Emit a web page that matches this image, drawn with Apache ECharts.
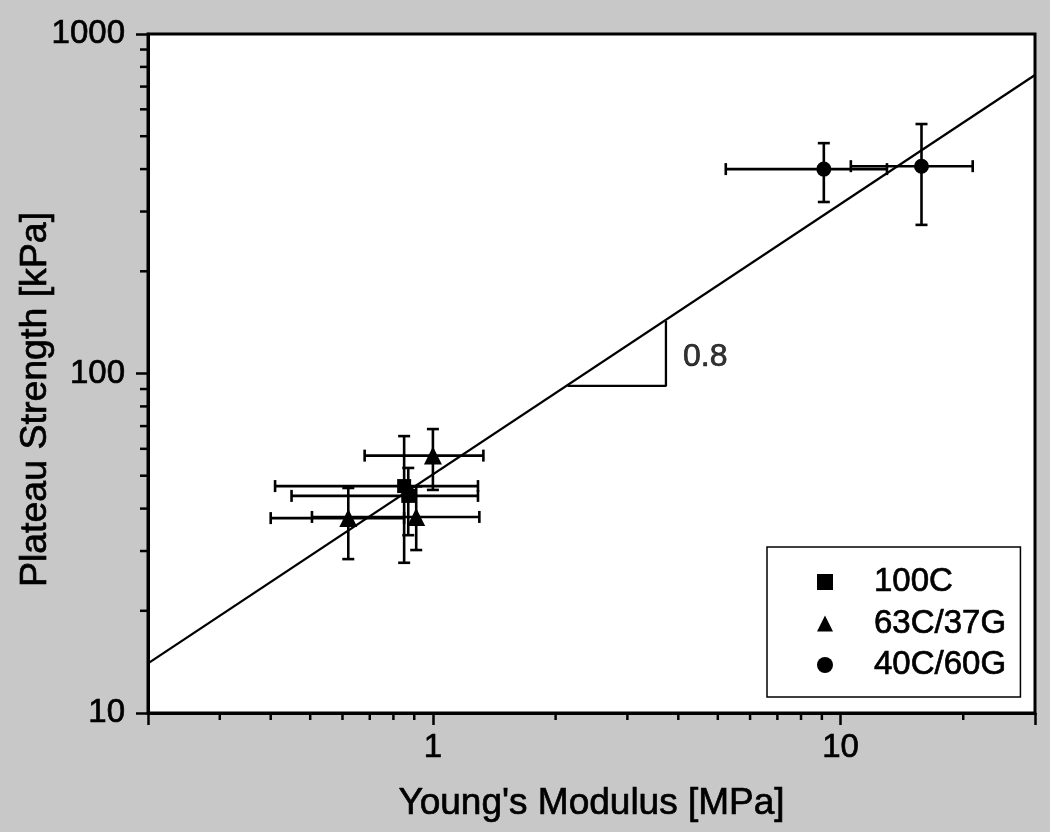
<!DOCTYPE html>
<html><head><meta charset="utf-8">
<script src="https://cdn.jsdelivr.net/npm/echarts@6/dist/echarts.min.js"></script>
<style>html,body{margin:0;padding:0;background:#c8c8c8}#c{width:1050px;height:832px}</style>
</head><body><div id="c"></div>
<script>
// ---------- data ----------
const seriesNames = ['100C', '63C/37G', '40C/60G'];

const x100C = [0.85, 0.87];
const y100C = [46.6, 43.6];
const xErr100C = [[0.41, 1.29], [0.45, 1.29]];
const yErr100C = [[27.7, 65.4], [33.4, 52.7]];

const x63C = [1.0, 0.62, 0.91];
const y63C = [57.3, 37.5, 37.8];
const xErr63C = [[0.68, 1.33], [0.40, 0.85], [0.505, 1.30]];
const yErr63C = [[45.4, 68.6], [28.4, 46.0], [30.2, 46.5]];

const x40C = [9.1, 15.8];
const y40C = [400, 408];
const xErr40C = [[5.23, 13.0], [10.6, 21.1]];
const yErr40C = [[320, 477], [274, 543]];

const fitX = [0.2, 30];
const fitY = [14.0, 757];

const slopeX = [2.14, 3.73, 3.73];
const slopeY = [91.9, 91.9, 142.8];
const slopeText = '0.8';
const slopeTextAt = [3.73, 112];

const X_MIN = 0.2, X_MAX = 30, Y_MIN = 10, Y_MAX = 1000;
const xTickLabels = [1, 10];
const yTickLabels = [10, 100, 1000];
const xMinorTicks = [0.3, 0.4, 0.5, 0.6, 0.7, 0.8, 0.9, 2, 3, 4, 5, 6, 7, 8, 9, 20];
const yMinorTicks = [20, 30, 40, 50, 60, 70, 80, 90, 200, 300, 400, 500, 600, 700, 800, 900];

// ---------- build ----------
const F = '"Liberation Sans", Arial, Helvetica, sans-serif';
const THICK = { textBorderColor: '#000', textBorderWidth: 0.7 };
function pts(xs, ys) { return xs.map((x, i) => [x, ys[i]]); }
function errData(xs, ys, xe, ye) { return xs.map((x, i) => [x, ys[i], xe[i][0], xe[i][1], ye[i][0], ye[i][1]]); }

function errRender(params, api) {
  const x = api.value(0), y = api.value(1);
  const pL = api.coord([api.value(2), y]), pR = api.coord([api.value(3), y]);
  const pB = api.coord([x, api.value(4)]), pT = api.coord([x, api.value(5)]);
  const c = 6;
  const st = { stroke: '#000', lineWidth: 2.6 };
  const L = (x1, y1, x2, y2) => ({ type: 'line', shape: { x1, y1, x2, y2 }, style: st });
  return { type: 'group', children: [
    L(pL[0], pL[1], pR[0], pR[1]),
    L(pL[0], pL[1] - c, pL[0], pL[1] + c),
    L(pR[0], pR[1] - c, pR[0], pR[1] + c),
    L(pT[0], pT[1], pB[0], pB[1]),
    L(pT[0] - c, pT[1], pT[0] + c, pT[1]),
    L(pB[0] - c, pB[1], pB[0] + c, pB[1])
  ]};
}

function fmtLog(v) {
  const l = Math.log10(v);
  if (Math.abs(l - Math.round(l)) < 1e-6) {
    const r = Math.round(v);
    return (xTickLabels.includes(r) || yTickLabels.includes(r)) ? String(r) : '';
  }
  return '';
}

const tickStyle = { color: '#000', width: 2.5 };

function errSeries(name, data) {
  return { type: 'custom', name: name, renderItem: errRender, data: data, encode: { x: 0, y: 1 }, z: 2, silent: true };
}
function scatterSeries(name, data, symbol, size) {
  return { type: 'scatter', name: name, data: data, symbol: symbol, symbolSize: size,
    itemStyle: { color: '#000', opacity: 1 }, z: 4, silent: true };
}

const option = {
  animation: false,
  backgroundColor: '#c8c8c8',
  grid: { left: 148, right: 15, top: 34, bottom: 119, containLabel: false, outerBoundsMode: 'none',
    show: true, backgroundColor: '#fff', borderColor: '#000', borderWidth: 3 },
  xAxis: {
    type: 'log', logBase: 10, min: X_MIN, max: X_MAX,
    name: "Young's Modulus [MPa]", nameLocation: 'middle', nameGap: 72, nameMoveOverlap: false,
    nameTextStyle: Object.assign({ fontSize: 37, color: '#000', fontFamily: F }, THICK),
    axisLine: { show: true, onZero: false, lineStyle: { color: '#000', width: 3 } },
    axisTick: { show: true, inside: false, length: 12, lineStyle: tickStyle },
    minorTick: { show: false },
    axisLabel: Object.assign({ fontSize: 33, color: '#000', fontFamily: F, margin: 18, formatter: fmtLog }, THICK),
    splitLine: { show: false }, minorSplitLine: { show: false }
  },
  yAxis: {
    type: 'log', logBase: 10, min: Y_MIN, max: Y_MAX,
    name: 'Plateau Strength [kPa]', nameLocation: 'middle', nameGap: 93, nameMoveOverlap: false,
    nameTextStyle: Object.assign({ fontSize: 37.5, color: '#000', fontFamily: F, padding: [0, 52, 0, 0] }, THICK),
    axisLine: { show: true, onZero: false, lineStyle: { color: '#000', width: 3 } },
    axisTick: { show: true, inside: false, length: 12, lineStyle: tickStyle },
    minorTick: { show: false },
    axisLabel: Object.assign({ fontSize: 33, color: '#000', fontFamily: F, margin: 23, formatter: fmtLog }, THICK),
    splitLine: { show: false }, minorSplitLine: { show: false }
  },
  legend: {
    orient: 'vertical', left: 767, top: 547,
    padding: [17, 14, 14, 50], itemGap: 5.5, itemWidth: 16, itemHeight: 16,
    backgroundColor: '#fff', borderColor: '#000', borderWidth: 1.5,
    textStyle: Object.assign({ fontSize: 33, fontFamily: F, color: '#000', lineHeight: 36, padding: [0, 0, 0, 36] }, THICK),
    data: seriesNames, selectedMode: false
  },
  series: [
    // minor ticks (x)
    { type: 'custom', silent: true, z: 5,
      data: xMinorTicks.map(v => [v, Y_MIN]), encode: { x: 0, y: 1 },
      renderItem: (p, api) => { const c = api.coord([api.value(0), Y_MIN]);
        return { type: 'line', shape: { x1: c[0], y1: c[1], x2: c[0], y2: c[1] + 7 }, style: { stroke: '#000', lineWidth: 2.5 } }; } },
    // minor ticks (y)
    { type: 'custom', silent: true, z: 5,
      data: yMinorTicks.map(v => [X_MIN, v]), encode: { x: 0, y: 1 },
      renderItem: (p, api) => { const c = api.coord([X_MIN, api.value(1)]);
        return { type: 'line', shape: { x1: c[0] - 8, y1: c[1], x2: c[0], y2: c[1] }, style: { stroke: '#000', lineWidth: 2.5 } }; } },
    // fit line
    { type: 'line', data: pts(fitX, fitY), symbol: 'none', lineStyle: { color: '#000', width: 2.3 }, z: 1, silent: true },
    // slope triangle
    { type: 'line', data: pts(slopeX, slopeY), symbol: 'none', lineStyle: { color: '#000', width: 2.3 }, z: 1, silent: true },
    { type: 'scatter', data: [slopeTextAt], symbolSize: 0, itemStyle: { color: '#000' }, silent: true,
      label: Object.assign({ show: true, position: 'right', distance: 17, formatter: slopeText, fontSize: 32, color: '#000', fontFamily: F }, THICK) },
    errSeries('e100C', errData(x100C, y100C, xErr100C, yErr100C)),
    errSeries('e63C', errData(x63C, y63C, xErr63C, yErr63C)),
    errSeries('e40C', errData(x40C, y40C, xErr40C, yErr40C)),
    scatterSeries(seriesNames[0], pts(x100C, y100C), 'rect', 14),
    scatterSeries(seriesNames[1], pts(x63C, y63C), 'triangle', 18),
    scatterSeries(seriesNames[2], pts(x40C, y40C), 'circle', 15)
  ]
};

const chart = echarts.init(document.getElementById('c'), null, { renderer: 'canvas' });
chart.setOption(option);
</script>
</body></html>
